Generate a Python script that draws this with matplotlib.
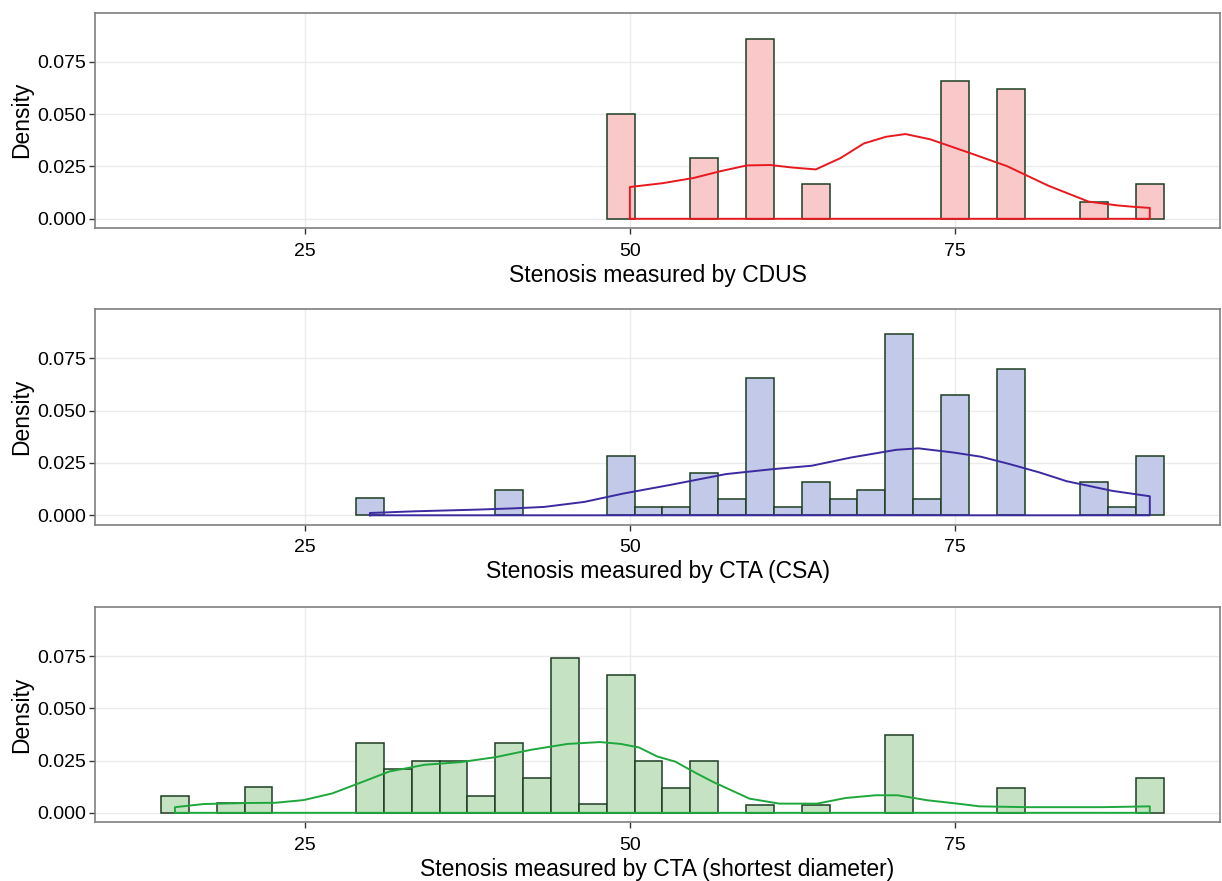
import matplotlib
matplotlib.use("Agg")
import matplotlib.pyplot as plt

plt.rcParams['font.family'] = ['Liberation Sans', 'DejaVu Sans']

# bin width shared by all three histograms
BW = 15.0 / 7.0

# --- CDUS ---
cdus_bins = [49.29, 55.71, 60.0, 64.29, 75.0, 79.29, 85.71, 90.0]
cdus_dens = [0.0500, 0.0290, 0.0860, 0.0166, 0.0660, 0.0620, 0.0082, 0.0166]
cdus_kde_x = [50.0, 52.5, 54.9, 57.0, 59.0, 60.8, 62.5, 64.3, 66.2, 68.0, 69.7,
              71.2, 73.1, 75.9, 79.0, 82.2, 85.3, 87.5, 88.8, 90.0]
cdus_kde_y = [0.0152, 0.0170, 0.0195, 0.0228, 0.0255, 0.0257, 0.0245, 0.0236,
              0.0290, 0.0360, 0.0392, 0.0405, 0.0380, 0.0320, 0.0252, 0.0158,
              0.0082, 0.0064, 0.0057, 0.0052]

# --- CTA (CSA) ---
csa_bins = [30.0, 40.71, 49.29, 51.43, 53.57, 55.71, 57.86, 60.0, 62.14, 64.29,
            66.43, 68.57, 70.71, 72.86, 75.0, 79.29, 85.71, 87.86, 90.0]
csa_dens = [0.0082, 0.0123, 0.0284, 0.0040, 0.0040, 0.0200, 0.0080, 0.0657,
            0.0040, 0.0157, 0.0080, 0.0123, 0.0865, 0.0080, 0.0574, 0.0700,
            0.0157, 0.0040, 0.0284]
csa_kde_x = [30.0, 33.4, 38.2, 41.0, 43.4, 46.5, 49.5, 53.0, 57.4, 60.9, 64.0,
             67.0, 70.5, 72.2, 74.9, 77.0, 79.2, 81.5, 83.6, 87.1, 90.0]
csa_kde_y = [0.0011, 0.0019, 0.0027, 0.0033, 0.0040, 0.0064, 0.0104, 0.0144,
             0.0197, 0.0220, 0.0237, 0.0276, 0.0313, 0.0320, 0.0300, 0.0280,
             0.0245, 0.0205, 0.0163, 0.0117, 0.0091]

# --- CTA (shortest diameter) ---
sd_bins = [15.0, 19.29, 21.43, 30.0, 32.14, 34.29, 36.43, 38.57, 40.71, 42.86,
           45.0, 47.14, 49.29, 51.43, 53.57, 55.71, 60.0, 64.29, 70.71, 79.29, 90.0]
sd_dens = [0.0082, 0.0045, 0.0125, 0.0333, 0.0210, 0.0250, 0.0250, 0.0082,
           0.0333, 0.0169, 0.0744, 0.0042, 0.0662, 0.0250, 0.0121, 0.0250,
           0.0039, 0.0039, 0.0374, 0.0121, 0.0165]
sd_kde_x = [15.0, 17.2, 20.5, 22.7, 24.9, 27.1, 29.3, 31.5, 34.2, 37.0, 39.7,
            42.4, 45.2, 47.7, 49.3, 50.7, 52.1, 53.5, 55.1, 56.4, 59.2, 61.5,
            64.4, 66.6, 68.9, 70.6, 72.9, 75.2, 76.9, 80.6, 86.3, 90.0]
sd_kde_y = [0.0027, 0.0042, 0.0047, 0.0048, 0.0061, 0.0093, 0.0145, 0.0198,
            0.0230, 0.0243, 0.0267, 0.0302, 0.0330, 0.0339, 0.0330, 0.0313,
            0.0270, 0.0245, 0.0190, 0.0148, 0.0068, 0.0044, 0.0044, 0.0071,
            0.0084, 0.0084, 0.0060, 0.0044, 0.0031, 0.0027, 0.0027, 0.0031]

panels = [
    (cdus_bins, cdus_dens, cdus_kde_x, cdus_kde_y, "#f9c8c8", "#e8191e",
     "Stenosis measured by CDUS"),
    (csa_bins, csa_dens, csa_kde_x, csa_kde_y, "#c3c9e8", "#3b2aa0",
     "Stenosis measured by CTA (CSA)"),
    (sd_bins, sd_dens, sd_kde_x, sd_kde_y, "#c5e3c3", "#1ea83c",
     "Stenosis measured by CTA (shortest diameter)"),
]

# axes boxes in pixels (top, bottom) of a 1222x881 figure
W, H = 1222.0, 881.0
boxes = [(12.5, 228.0), (309.0, 524.5), (607.0, 822.0)]

fig = plt.figure(figsize=(12.22, 8.81), dpi=100, facecolor="white")

for (bins, dens, kx, ky, fill, line, xlab), (top, bot) in zip(panels, boxes):
    ax = fig.add_axes([95 / W, 1 - bot / H, 1125 / W, (bot - top) / H])
    ax.set_axisbelow(True)
    ax.grid(True, color="#ebebeb", linewidth=1.0)
    ax.bar(bins, dens, width=BW, color=fill, edgecolor="#1d3d22", linewidth=1.1,
           zorder=2)
    # density outline, closed down to the baseline like geom_density
    ox = [kx[0]] + kx + [kx[-1], kx[0]]
    oy = [0.0] + ky + [0.0, 0.0]
    ax.plot(ox, oy, color=line, linewidth=1.4, zorder=3)

    ax.set_xlim(8.85, 95.4)
    ax.set_ylim(-0.0044, 0.0986)
    ax.set_xticks([25, 50, 75])
    ax.set_yticks([0, 0.025, 0.05, 0.075])
    ax.set_yticklabels(["0.000", "0.025", "0.050", "0.075"])
    ax.tick_params(axis="both", labelsize=14, colors="#333333", length=4,
                   width=1.0, labelcolor="black")
    ax.tick_params(axis="x", pad=6.5)
    ax.tick_params(axis="y", pad=2.5)
    for s in ax.spines.values():
        s.set_color("#7f7f7f")
        s.set_linewidth(1.2)
    ax.set_xlabel(xlab, fontsize=16.5, labelpad=3)
    ax.set_ylabel("Density", fontsize=16.5, labelpad=3)

fig.savefig("out.png", dpi=100)
